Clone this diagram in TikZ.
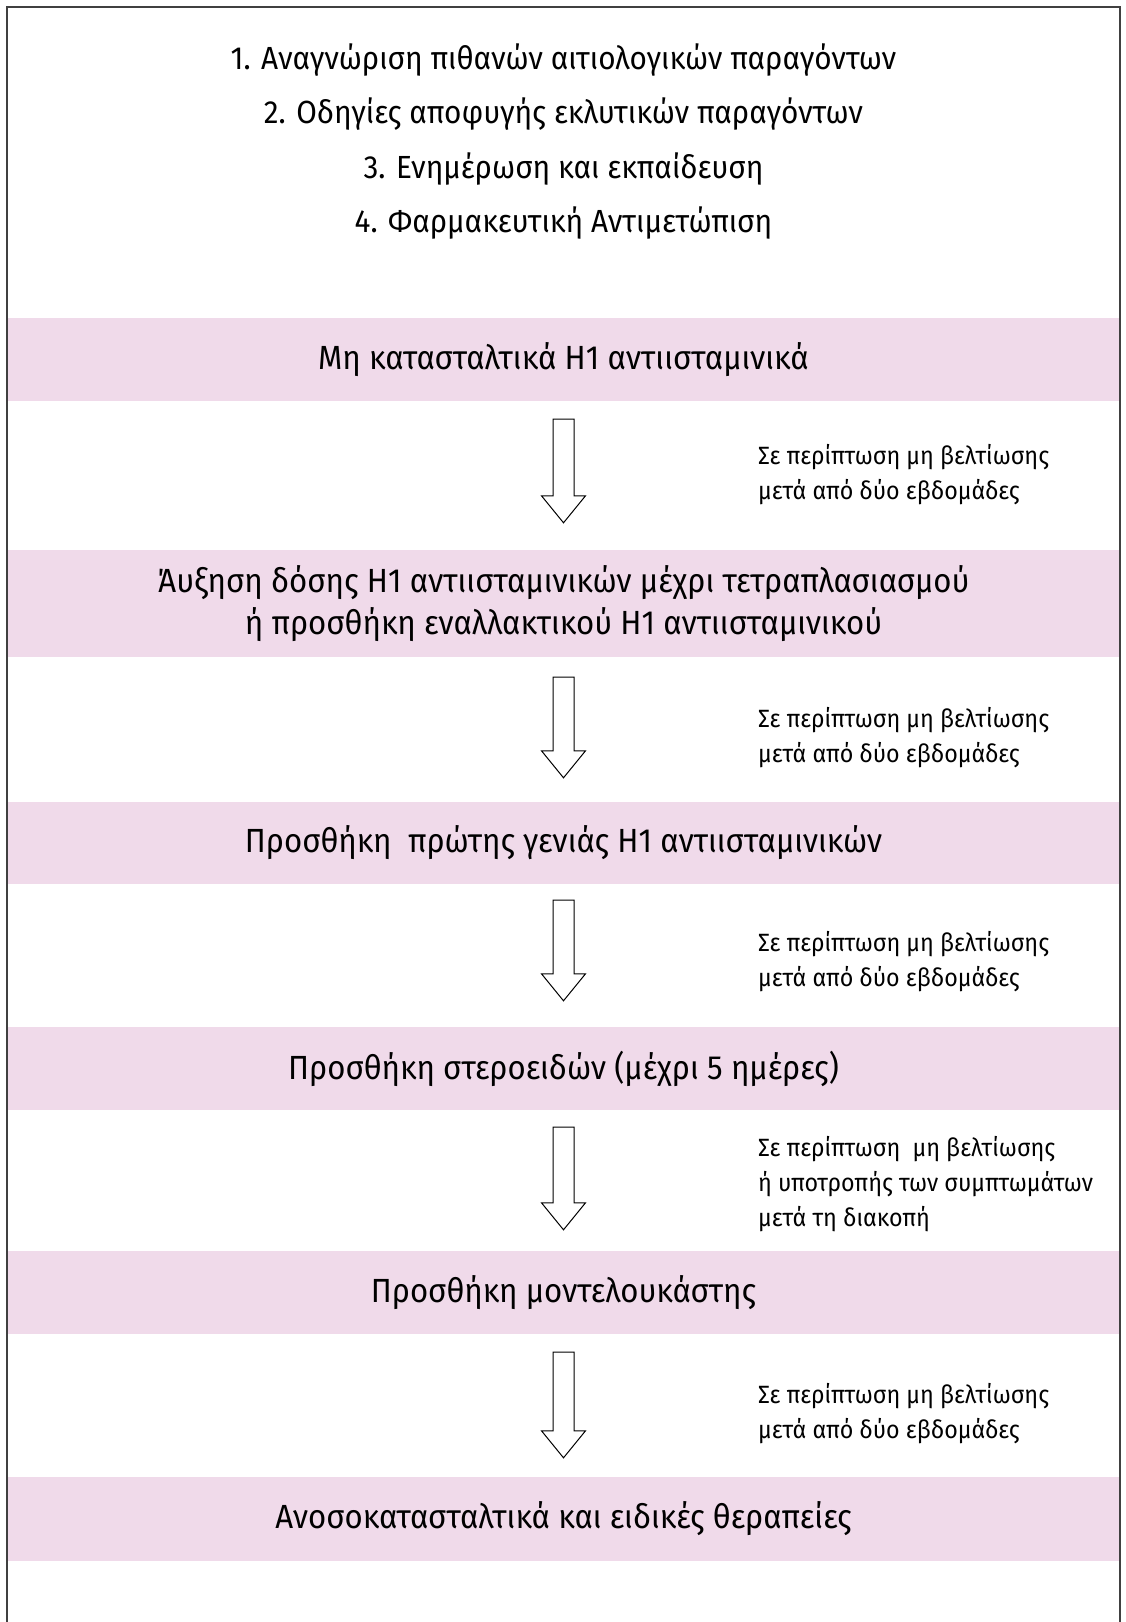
\documentclass[tikz,border=0pt]{standalone}
\usepackage{fontspec}
\setmainfont{Fira Sans}[FakeStretch=0.93]
\usetikzlibrary{calc,positioning}
\definecolor{bandpink}{RGB}{240,218,234}

\begin{document}
\begin{tikzpicture}[
  x=1pt, y=-1pt,
  band/.style={fill=bandpink, minimum width=1111pt, inner sep=0pt, align=center,
               font=\fontsize{33.5}{42}\selectfont},
  steps/.style={align=center, inner sep=0pt, font=\fontsize{32}{54.3}\selectfont},
  note/.style={anchor=west, align=left, inner sep=0pt, font=\fontsize{25}{35}\selectfont},
  blockarrow/.style={draw=black, line width=1pt, fill=white,
    to path={let \p1=(\tikztostart), \p2=(\tikztotarget) in
      (\x1-10.5pt,\y1) -- (\x1+10.5pt,\y1) -- (\x1+10.5pt,\y2+27pt) -- (\x1+22pt,\y2+27pt)
      -- (\x2,\y2) -- (\x1-22pt,\y2+27pt) -- (\x1-10.5pt,\y2+27pt) -- cycle}}
]
\useasboundingbox (0,0) rectangle (1125,1622);

% frame, open at the bottom
\draw[line width=1.5pt, black!75] (7,1622) -- (7,7) -- (1120,7) -- (1120,1622);

\node[steps] (intro) at (563.5,141.5) {1. Αναγνώριση πιθανών αιτιολογικών παραγόντων\\
  2. Οδηγίες αποφυγής εκλυτικών παραγόντων\\
  3. Ενημέρωση και εκπαίδευση\\
  4. Φαρμακευτική Αντιμετώπιση};

\node[band, minimum height=83pt] (b1) at (563.5,359.5) {Μη κατασταλτικά H1 αντιισταμινικά};
\node[band, minimum height=107pt] (b2) at (563.5,603.5) {Άυξηση δόσης H1 αντιισταμινικών μέχρι τετραπλασιασμού\\
  ή προσθήκη εναλλακτικού H1 αντιισταμινικού};
\node[band, minimum height=82pt] (b3) at (563.5,843) {Προσθήκη\ \ πρώτης γενιάς H1 αντιισταμινικών};
\node[band, minimum height=83pt] (b4) at (563.5,1068.5) {Προσθήκη στεροειδών (μέχρι 5 ημέρες)};
\node[band, minimum height=83pt] (b5) at (563.5,1292.5) {Προσθήκη μοντελουκάστης};
\node[band, minimum height=84pt] (b6) at (563.5,1519) {Ανοσοκατασταλτικά και ειδικές θεραπείες};

% arrow ends
\coordinate[below=18pt of b1] (a1s);
\coordinate[above=27pt of b2] (a1e);
\coordinate[below=20pt of b2] (a2s);
\coordinate[above=24pt of b3] (a2e);
\coordinate[below=16pt of b3] (a3s);
\coordinate[above=26pt of b4] (a3e);
\coordinate[below=17pt of b4] (a4s);
\coordinate[above=21pt of b5] (a4e);
\coordinate[below=18pt of b5] (a5s);
\coordinate[above=19pt of b6] (a5e);

\draw[blockarrow] (a1s) to (a1e);
\draw[blockarrow] (a2s) to (a2e);
\draw[blockarrow] (a3s) to (a3e);
\draw[blockarrow] (a4s) to (a4e);
\draw[blockarrow] (a5s) to (a5e);

\node[note] (n1) at (758,475) {Σε περίπτωση μη βελτίωσης\\μετά από δύο εβδομάδες};
\node[note] (n2) at (758,738) {Σε περίπτωση μη βελτίωσης\\μετά από δύο εβδομάδες};
\node[note] (n3) at (758,961.5) {Σε περίπτωση μη βελτίωσης\\μετά από δύο εβδομάδες};
\node[note] (n4) at (758,1184) {Σε περίπτωση\ \ μη βελτίωσης\\ή υποτροπής των συμπτωμάτων\\μετά τη διακοπή};
\node[note] (n5) at (758,1413.5) {Σε περίπτωση μη βελτίωσης\\μετά από δύο εβδομάδες};
\end{tikzpicture}
\end{document}
